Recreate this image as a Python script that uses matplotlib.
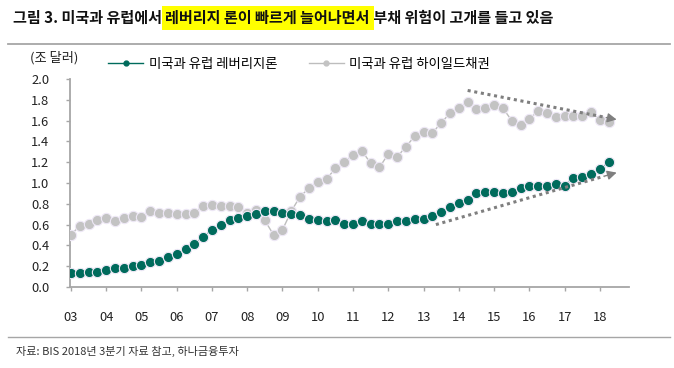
import numpy as np
import matplotlib
matplotlib.use('Agg')
import matplotlib.pyplot as plt
from matplotlib.lines import Line2D

plt.rcParams['font.family'] = ['Noto Sans CJK KR', 'DejaVu Sans']

# quarterly data, 2003Q1 .. 2018Q2 (trillion USD)
year_labels = ['03', '04', '05', '06', '07', '08', '09', '10',
               '11', '12', '13', '14', '15', '16', '17', '18']
lev_loans = [0.13, 0.13, 0.14, 0.14, 0.16, 0.18, 0.18, 0.20, 0.21, 0.24,
             0.25, 0.29, 0.32, 0.37, 0.41, 0.48, 0.55, 0.60, 0.64, 0.66,
             0.68, 0.70, 0.73, 0.73, 0.71, 0.70, 0.69, 0.65, 0.64, 0.63,
             0.64, 0.61, 0.61, 0.63, 0.61, 0.61, 0.61, 0.63, 0.63, 0.65,
             0.65, 0.68, 0.72, 0.77, 0.81, 0.84, 0.90, 0.91, 0.91, 0.90,
             0.91, 0.95, 0.97, 0.97, 0.97, 0.99, 0.97, 1.05, 1.06, 1.09,
             1.13, 1.20]
high_yield = [0.50, 0.59, 0.61, 0.64, 0.66, 0.63, 0.66, 0.68, 0.67, 0.73,
              0.71, 0.71, 0.70, 0.70, 0.71, 0.78, 0.79, 0.78, 0.78, 0.77,
              0.71, 0.74, 0.64, 0.50, 0.55, 0.73, 0.87, 0.95, 1.01, 1.04,
              1.14, 1.20, 1.27, 1.31, 1.19, 1.15, 1.28, 1.25, 1.35, 1.45,
              1.49, 1.48, 1.58, 1.67, 1.72, 1.78, 1.71, 1.72, 1.75, 1.72,
              1.60, 1.56, 1.62, 1.69, 1.67, 1.63, 1.64, 1.64, 1.64, 1.68,
              1.61, 1.59]
# trend arrows: (start quarter index, start value), (end quarter index, end value)
hy_trend = [(45.0, 1.89), (61.9, 1.61)]
ll_trend = [(41.4, 0.60), (61.9, 1.10)]

names = ['미국과 유럽 레버리지론', '미국과 유럽 하이일드채권']
green = '#006B5C'
grey = '#C3C3C3'
edge = '#EEE8F6'

fig = plt.figure(figsize=(6.74, 3.68), dpi=100)
ax = fig.add_axes([70/674, 1-287/368, (629-70)/674, (287-79)/368])

q = np.arange(len(lev_loans))
ax.plot(q, high_yield, '-o', color='#BDBDBD', lw=1, mfc=grey, mec=edge,
        mew=0.8, ms=7.4, zorder=3)
ax.plot(q, lev_loans, '-o', color=green, lw=1, mfc=green, mec=edge,
        mew=0.8, ms=7.4, zorder=4)

for (x0, y0), (x1, y1) in [hy_trend, ll_trend]:
    f = 0.93
    xm, ym = x0 + (x1-x0)*f, y0 + (y1-y0)*f
    ax.plot([x0, xm], [y0, ym], ls=(0, (1, 1.2)), lw=2.2, color='#7F7F7F',
            zorder=5, solid_capstyle='butt')
    ax.annotate('', xy=(x1, y1), xytext=(xm, ym),
                arrowprops=dict(arrowstyle='-|>,head_length=0.55,head_width=0.28',
                                color='#7F7F7F', lw=1, shrinkA=0, shrinkB=0),
                zorder=5)

ax.set_xlim(-0.1, 63.3)
ax.set_ylim(0, 2.0)
ax.set_yticks(np.arange(0, 2.01, 0.2))
ax.set_yticklabels([f'{v:.1f}' for v in np.arange(0, 2.01, 0.2)])
ax.set_xticks(np.arange(0, 4*len(year_labels), 4))
ax.set_xticklabels(year_labels)
for s in ['top', 'right']:
    ax.spines[s].set_visible(False)
for s in ['left', 'bottom']:
    ax.spines[s].set_color('#A6A6A6')
    ax.spines[s].set_linewidth(1.3)
ax.tick_params(axis='y', length=3, width=1, color='#A6A6A6', pad=12,
               labelsize=9.3, labelcolor='#222222')
ax.tick_params(axis='x', length=3, width=1, color='#A6A6A6', pad=14,
               labelsize=9.3, labelcolor='#222222')

fig.text(54/674, 1-58/368, '(조 달러)', ha='center', va='center',
         fontsize=9.5, color='#222222')

handles = [Line2D([], [], color=green, lw=1, marker='o', ms=3.5),
           Line2D([], [], color='#BDBDBD', lw=1, marker='o', ms=3.5, mfc=grey, mec=grey)]
ax.legend(handles, names, loc='center left', ncol=2, frameon=False,
          bbox_to_anchor=(108/674, 1-64/368), bbox_transform=fig.transFigure,
          fontsize=9.6, handlelength=2.65, handletextpad=0.4, columnspacing=2.35,
          numpoints=1, borderaxespad=0, borderpad=0)

# title with highlighted part
t1 = fig.text(13/674, 1-18/368, '그림 3. 미국과 유럽에서 ', fontsize=10.9,
              fontweight='bold', va='center', ha='left', color='#111111')
t2 = ax.annotate('레버리지 론이 빠르게 늘어나면서', xy=(1, 0.5), xycoords=t1,
                 va='center', ha='left', fontsize=10.9, fontweight='bold',
                 color='#111111', annotation_clip=False,
                 bbox=dict(boxstyle='square,pad=0.25', fc='#FFFF00', ec='none'))
t3 = ax.annotate(' 부채 위험이 고개를 들고 있음', xy=(1, 0.5), xycoords=t2,
                 va='center', ha='left', fontsize=10.9, fontweight='bold',
                 color='#111111', annotation_clip=False)

fig.add_artist(Line2D([8/674, 670/674], [1-44/368]*2, color='#A6A6A6', lw=1.3))
fig.add_artist(Line2D([8/674, 670/674], [1-337/368]*2, color='#A6A6A6', lw=1.0))
fig.text(16/674, 1-351/368, '자료: BIS 2018년 3분기 자료 참고, 하나금융투자',
         fontsize=8, va='center', ha='left', color='#333333')

fig.savefig('out.png', dpi=100)
